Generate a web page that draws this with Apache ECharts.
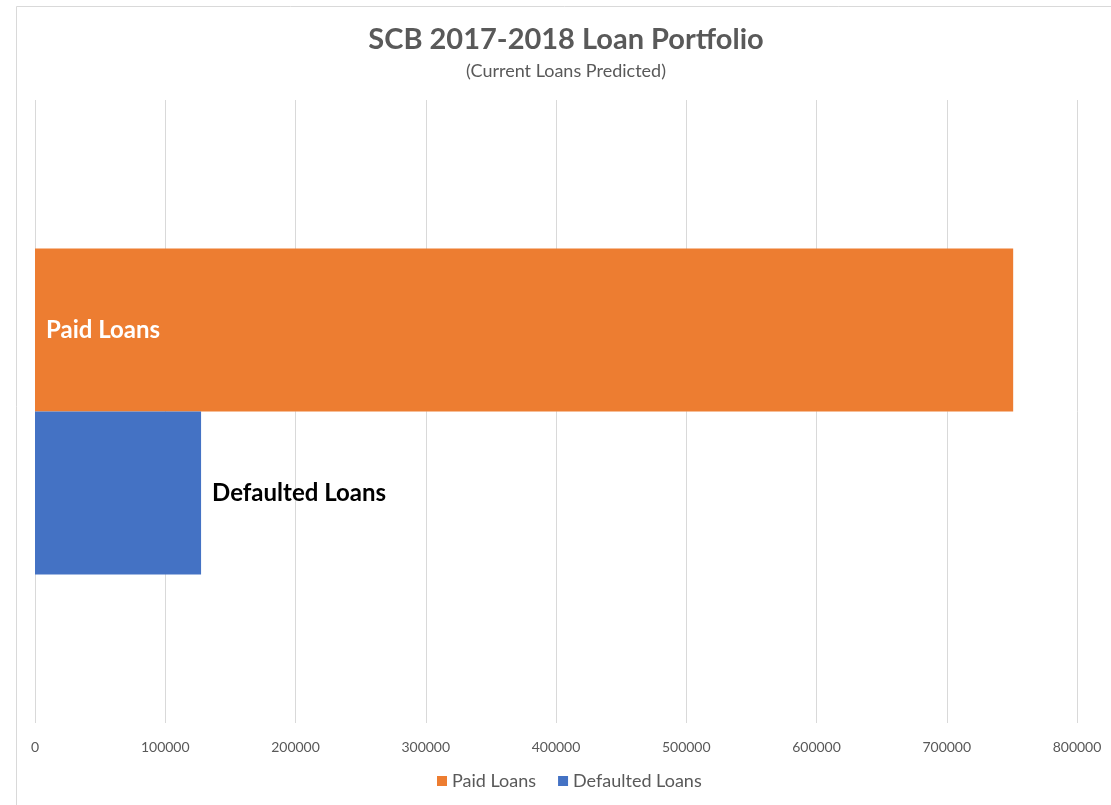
<!DOCTYPE html>
<html>
<head>
<meta charset="utf-8">
<script src="https://cdn.jsdelivr.net/npm/echarts@6/dist/echarts.min.js"></script>
<style>
  html, body { margin: 0; padding: 0; background: #ffffff; }
  #chart { width: 1111px; height: 805px; }
</style>
</head>
<body>
<div id="chart"></div>
<script>
// Loan portfolio totals
const categories = ['Loans'];
const seriesNames = ['Paid Loans', 'Defaulted Loans'];
const paidLoans = [751000];
const defaultedLoans = [127500];
const axisMax = 800000;
const axisStep = 100000;

const FONT = 'Lato, "Open Sans", sans-serif';
const TEXT_GRAY = '#595959';

const chart = echarts.init(document.getElementById('chart'));
chart.setOption({
  animation: false,
  backgroundColor: '#ffffff',
  title: {
    text: 'SCB 2017-2018 Loan Portfolio',
    subtext: '(Current Loans Predicted)',
    left: 561,
    textAlign: 'center',
    top: 20,
    itemGap: 8,
    textStyle: { fontFamily: FONT, fontSize: 29, fontWeight: 'bold', color: TEXT_GRAY },
    subtextStyle: { fontFamily: FONT, fontSize: 18, color: TEXT_GRAY }
  },
  legend: {
    data: seriesNames,
    bottom: 10,
    left: 432,
    icon: 'rect',
    itemWidth: 10,
    itemHeight: 10,
    itemGap: 22,
    textStyle: { fontFamily: FONT, fontSize: 18, color: TEXT_GRAY }
  },
  grid: { left: 35, right: 34, top: 100, bottom: 82, containLabel: false },
  xAxis: {
    type: 'value',
    min: 0,
    max: axisMax,
    interval: axisStep,
    axisLine: { show: false },
    axisTick: { show: false },
    axisLabel: {
      fontFamily: FONT,
      fontSize: 14,
      color: TEXT_GRAY,
      margin: 17,
      formatter: (v) => String(v)
    },
    splitLine: { lineStyle: { color: '#d9d9d9', width: 1 } }
  },
  yAxis: {
    type: 'category',
    data: categories,
    inverse: true,
    axisLine: { show: false },
    axisTick: { show: false },
    axisLabel: { show: false }
  },
  series: [
    {
      name: seriesNames[0],
      type: 'bar',
      data: paidLoans,
      barGap: '0%',
      barCategoryGap: '47.7%',
      itemStyle: { color: '#ED7D31' },
      label: {
        show: true,
        position: 'insideLeft',
        distance: 11,
        formatter: '{a}',
        fontFamily: FONT,
        fontSize: 24,
        fontWeight: 'bold',
        color: '#ffffff'
      }
    },
    {
      name: seriesNames[1],
      type: 'bar',
      data: defaultedLoans,
      barGap: '0%',
      barCategoryGap: '47.7%',
      itemStyle: { color: '#4472C4' },
      label: {
        show: true,
        position: 'right',
        distance: 11,
        formatter: '{a}',
        fontFamily: FONT,
        fontSize: 24,
        fontWeight: 'bold',
        color: '#000000'
      }
    }
  ],
  graphic: [
    {
      type: 'rect',
      left: 14,
      top: 4,
      shape: { width: 1120, height: 820 },
      style: { fill: 'none', stroke: '#d9d9d9', lineWidth: 1 },
      silent: true
    }
  ]
});
</script>
</body>
</html>
